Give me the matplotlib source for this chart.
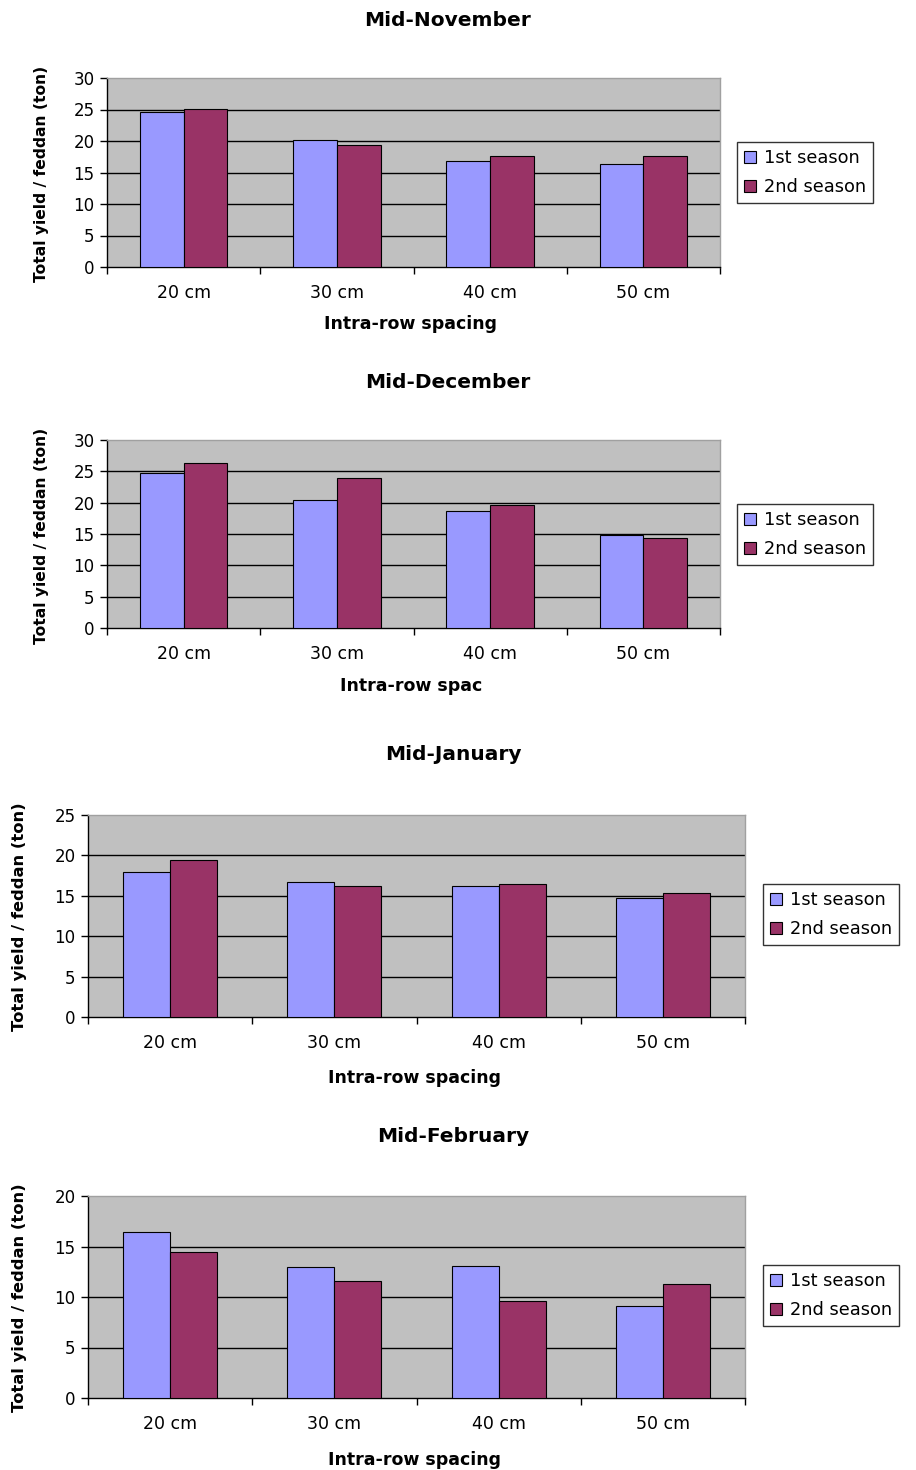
import matplotlib
matplotlib.use("Agg")
import matplotlib.pyplot as plt
import numpy as np
from matplotlib.patches import Patch

plt.rcParams['font.family'] = ['DejaVu Sans']

categories = ["20 cm", "30 cm", "40 cm", "50 cm"]
series_names = ["1st season", "2nd season"]
titles = ["Mid-November", "Mid-December", "Mid-January", "Mid-February"]
xlabels = ["Intra-row spacing", "Intra-row spac", "Intra-row spacing", "Intra-row spacing"]
ylabel = "Total yield / feddan (ton)"

nov_1st = [24.6, 20.1, 16.8, 16.4]
nov_2nd = [25.1, 19.4, 17.6, 17.6]
dec_1st = [24.8, 20.4, 18.7, 14.9]
dec_2nd = [26.3, 23.9, 19.6, 14.4]
jan_1st = [17.9, 16.7, 16.2, 14.7]
jan_2nd = [19.4, 16.2, 16.5, 15.3]
feb_1st = [16.4, 13.0, 13.1, 9.1]
feb_2nd = [14.5, 11.6, 9.6, 11.3]

ymaxes = [30, 30, 25, 20]
colors = ["#9999FF", "#993366"]

W, H = 916, 1470
fig = plt.figure(figsize=(W / 100, H / 100), dpi=100)

# layout in pixels: (left, top, right, bottom)
boxes = [(107, 78, 720, 267), (107, 440, 720, 628), (88, 815, 745, 1017), (88, 1196, 745, 1398)]
title_pos = [(448, 21), (448, 383), (453, 755), (453, 1136)]
xlabel_pos = [(411, 324), (411, 686), (415, 1078), (415, 1460)]
ylabel_pos = [(42, 174), (42, 536), (20, 917), (20, 1298)]
ylabel_size = [11.2, 11.2, 11.8, 11.8]
legend_pos = [(737, 142), (737, 504), (763, 884), (763, 1265)]

data = [(nov_1st, nov_2nd), (dec_1st, dec_2nd), (jan_1st, jan_2nd), (feb_1st, feb_2nd)]

def fx(x):
    return x / W

def fy(y):
    return 1 - y / H

for i in range(4):
    l, t, r, b = boxes[i]
    ax = fig.add_axes([fx(l), fy(b), (r - l) / W, (b - t) / H])
    ax.set_facecolor("#C0C0C0")
    x = np.arange(len(categories))
    w = 1 / 3.5
    s1, s2 = data[i]
    ax.bar(x - w / 2, s1, width=w, color=colors[0], edgecolor="black", linewidth=0.8, zorder=3)
    ax.bar(x + w / 2, s2, width=w, color=colors[1], edgecolor="black", linewidth=0.8, zorder=3)
    ax.set_xlim(-0.5, len(categories) - 0.5)
    ax.set_ylim(0, ymaxes[i])
    ax.set_yticks(np.arange(0, ymaxes[i] + 1, 5))
    for yv in np.arange(5, ymaxes[i], 5):
        ax.axhline(yv, color="black", linewidth=1.0, zorder=1)
    ax.set_xticks(np.arange(-0.5, len(categories), 1.0))
    ax.set_xticklabels([])
    ax.set_xticks(x, minor=True)
    ax.set_xticklabels(categories, minor=True)
    ax.tick_params(axis="x", which="major", direction="out", length=5, width=1, color="black")
    ax.tick_params(axis="x", which="minor", length=0, pad=12, labelsize=12.5)
    ax.tick_params(axis="y", direction="out", length=5, width=1, pad=4, labelsize=12)
    for sp in ["top", "right"]:
        ax.spines[sp].set_color("#A0A0A0")
        ax.spines[sp].set_linewidth(1.0)
    for sp in ["left", "bottom"]:
        ax.spines[sp].set_color("black")
        ax.spines[sp].set_linewidth(1.0)

    tx, ty = title_pos[i]
    fig.text(fx(tx), fy(ty), titles[i], ha="center", va="center", fontsize=14.5, fontweight="bold")
    lx, ly = xlabel_pos[i]
    fig.text(fx(lx), fy(ly), xlabels[i], ha="center", va="center", fontsize=12.5, fontweight="bold")
    yx, yy = ylabel_pos[i]
    fig.text(fx(yx), fy(yy), ylabel, ha="center", va="center", rotation=90,
             fontsize=ylabel_size[i], fontweight="bold")

    gx, gy = legend_pos[i]
    handles = [Patch(facecolor=colors[k], edgecolor="black", linewidth=0.8, label=series_names[k]) for k in range(2)]
    leg = fig.legend(handles=handles, loc="upper left", bbox_to_anchor=(fx(gx), fy(gy)),
                     frameon=True, fancybox=False, edgecolor="black", fontsize=12.8,
                     handlelength=0.65, handleheight=0.65, handletextpad=0.45,
                     borderpad=0.4, labelspacing=0.62, borderaxespad=0)
    leg.get_frame().set_linewidth(1.0)

fig.savefig("out.png", dpi=100)
